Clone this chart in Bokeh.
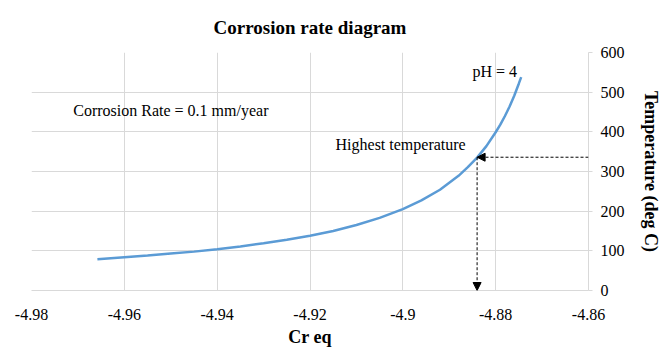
from bokeh.plotting import figure
from bokeh.models import (Range1d, FixedTicker, CustomJSTickFormatter, Label,
                          Arrow, NormalHead)
from bokeh.embed import file_html
from bokeh.resources import INLINE

# ---- data ----
cr_eq = [-4.9658, -4.96, -4.955, -4.95, -4.945, -4.94, -4.935, -4.93, -4.925,
         -4.92, -4.915, -4.91, -4.905, -4.90, -4.896, -4.892, -4.888, -4.886,
         -4.884, -4.882, -4.880, -4.879, -4.878, -4.877, -4.876, -4.875, -4.8745]
temperature = [79, 84, 88, 93, 98, 104, 111, 119, 128,
               138, 150, 165, 183, 205, 227, 254, 289, 311,
               335, 364, 399, 418, 440, 464, 491, 522, 538]
x_ticks = [-4.98, -4.96, -4.94, -4.92, -4.90, -4.88, -4.86]
y_ticks = [0, 100, 200, 300, 400, 500, 600]
highest_x = -4.884
highest_t = 336

SERIF = "Liberation Serif"
GRID = "#d9d9d9"

p = figure(width=666, height=352, output_backend="svg", toolbar_location=None,
           x_range=Range1d(x_ticks[0], x_ticks[-1]),
           y_range=Range1d(y_ticks[0], y_ticks[-1]),
           y_axis_location="right",
           min_border_left=31, min_border_top=52,
           min_border_right=78, min_border_bottom=62,
           title="Corrosion rate diagram")
p.outline_line_color = None
p.background_fill_color = "white"
p.border_fill_color = "white"

p.title.align = "center"
p.title.vertical_align = "top"
p.title.text_font = SERIF
p.title.text_font_size = "19px"
p.title.text_font_style = "bold"
p.title.text_color = "#000000"
p.title.offset = 24
p.title.standoff = 26

# x axis
xa = p.xaxis[0]
xa.ticker = FixedTicker(ticks=x_ticks)
xa.formatter = CustomJSTickFormatter(code="return String(parseFloat(tick.toFixed(4)));")
xa.axis_label = "Cr eq"
xa.axis_label_text_font = SERIF
xa.axis_label_text_font_style = "bold"
xa.axis_label_text_font_size = "18px"
xa.axis_label_text_color = "#000000"
xa.axis_label_standoff = 4
xa.major_label_text_font = SERIF
xa.major_label_text_font_size = "16px"
xa.major_label_text_color = "#000000"
xa.major_label_standoff = 12
xa.axis_line_color = GRID
xa.major_tick_line_color = None
xa.minor_tick_line_color = None

# y axis (right)
ya = p.yaxis[0]
ya.ticker = FixedTicker(ticks=y_ticks)
ya.axis_label = "Temperature (deg C)"
ya.axis_label_text_font = SERIF
ya.axis_label_text_font_style = "bold"
ya.axis_label_text_font_size = "18px"
ya.axis_label_text_color = "#000000"
ya.axis_label_standoff = 13
ya.major_label_text_font = SERIF
ya.major_label_text_font_size = "16px"
ya.major_label_text_color = "#000000"
ya.major_label_standoff = 8
ya.axis_line_color = GRID
ya.major_tick_line_color = GRID
ya.major_tick_in = 0
ya.major_tick_out = 4
ya.minor_tick_line_color = None

p.xgrid.grid_line_color = GRID
p.ygrid.grid_line_color = GRID
p.xgrid.ticker = FixedTicker(ticks=x_ticks)

# curve
p.line(cr_eq, temperature, line_color="#5B9BD5", line_width=2.5)

# dashed arrows marking highest temperature
p.add_layout(Arrow(x_start=x_ticks[-1], y_start=highest_t, x_end=highest_x, y_end=highest_t,
                   line_color="black", line_width=1, line_dash="3 2",
                   end=NormalHead(size=8, fill_color="black", line_color="black")))
p.add_layout(Arrow(x_start=highest_x, y_start=highest_t, x_end=highest_x, y_end=y_ticks[0],
                   line_color="black", line_width=1, line_dash="3 2",
                   end=NormalHead(size=8, fill_color="black", line_color="black")))

# annotations
for txt, x, y in [("Corrosion Rate = 0.1 mm/year", -4.971, 454),
                  ("pH = 4", -4.885, 551),
                  ("Highest temperature", -4.9145, 368)]:
    p.add_layout(Label(x=x, y=y, text=txt, text_font=SERIF, text_font_size="16px",
                       text_color="#000000", text_baseline="middle", text_align="left"))

open("out.html", "w").write(file_html(p, INLINE))
